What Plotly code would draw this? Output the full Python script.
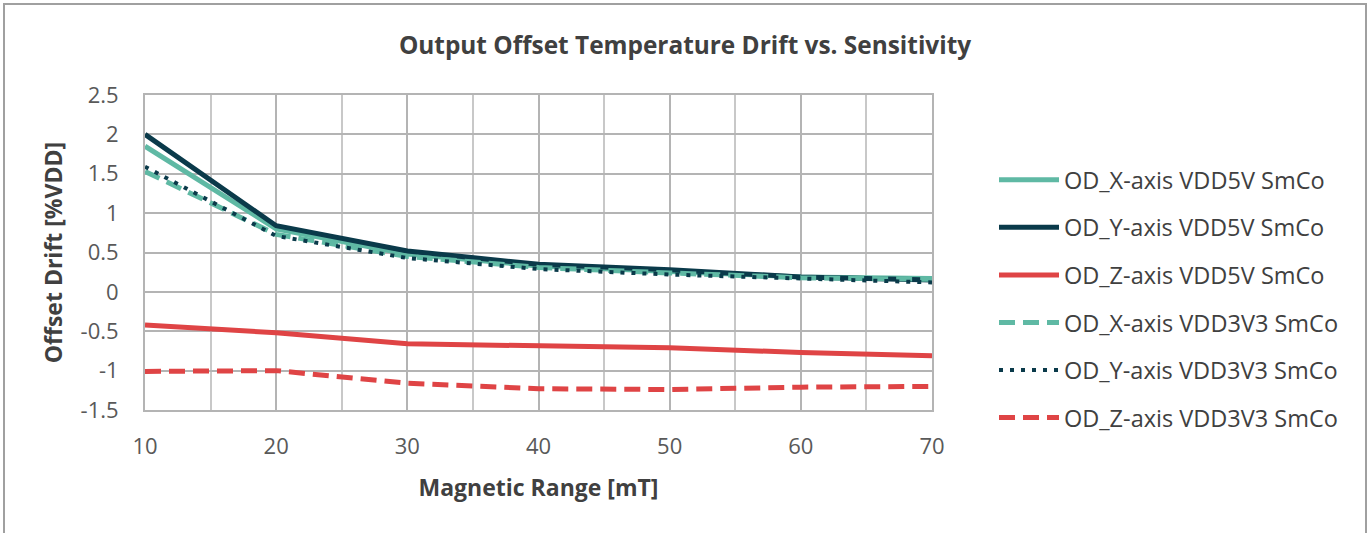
import plotly.graph_objects as go

x_range_mT = [10, 20, 30, 40, 50, 60, 70]

od_x_5v = [1.85, 0.80, 0.48, 0.33, 0.26, 0.19, 0.17]
od_y_5v = [2.00, 0.84, 0.52, 0.35, 0.28, 0.19, 0.15]
od_z_5v = [-0.42, -0.52, -0.66, -0.69, -0.71, -0.77, -0.81]
od_x_3v3 = [1.53, 0.73, 0.45, 0.31, 0.24, 0.18, 0.16]
od_y_3v3 = [1.59, 0.71, 0.43, 0.29, 0.22, 0.17, 0.12]
od_z_3v3 = [-1.01, -1.00, -1.16, -1.23, -1.24, -1.21, -1.20]

series_names = [
    "OD_X-axis VDD5V SmCo",
    "OD_Y-axis VDD5V SmCo",
    "OD_Z-axis VDD5V SmCo",
    "OD_X-axis VDD3V3 SmCo",
    "OD_Y-axis VDD3V3 SmCo",
    "OD_Z-axis VDD3V3 SmCo",
]

y_tick_vals = [2.5, 2, 1.5, 1, 0.5, 0, -0.5, -1, -1.5]
y_tick_text = ["2.5", "2", "1.5", "1", "0.5", "0", "-0.5", "-1", "-1.5"]

TEAL = "#5FB9A4"
NAVY = "#0A3A4A"
RED = "#DF4445"

styles = [
    dict(color=TEAL, width=5, dash="solid"),
    dict(color=NAVY, width=5, dash="solid"),
    dict(color=RED, width=5, dash="solid"),
    dict(color=TEAL, width=5, dash="16px,8px"),
    dict(color=NAVY, width=4, dash="4px,7px"),
    dict(color=RED, width=5, dash="16px,8px"),
]

data = [od_x_5v, od_y_5v, od_z_5v, od_x_3v3, od_y_3v3, od_z_3v3]

fig = go.Figure()
for i, (name, ys, st) in enumerate(zip(series_names, data, styles)):
    fig.add_trace(go.Scatter(
        x=x_range_mT, y=ys, name=name, mode="lines",
        line=st, legendgroup=f"g{i}",
    ))

W, H = 1370, 533
L, R, T, B = 145, 932, 95, 410
fig.update_layout(
    width=W, height=H,
    margin=dict(l=L, r=W - R, t=T, b=H - B, pad=0),
    paper_bgcolor="white", plot_bgcolor="white",
    font=dict(family="Open Sans, Noto Sans, sans-serif", color="#595959", size=22),
    title=dict(
        text="<b>Output Offset Temperature Drift vs. Sensitivity</b>",
        x=0.5, xanchor="center", y=1 - 45 / H, yanchor="middle",
        font=dict(size=24.4, color="#404040"),
    ),
    legend=dict(
        x=(994 - L) / (R - L), xanchor="left",
        y=(B - 299) / (B - T), yanchor="middle",
        font=dict(size=23.5, color="#404040"),
        traceorder="grouped", tracegroupgap=14,
        itemwidth=60, bgcolor="rgba(0,0,0,0)",
    ),
    showlegend=True,
)

grid_c = "#B4B4B4"
fig.update_xaxes(
    range=[10, 70], tickvals=x_range_mT, showgrid=True, gridcolor=grid_c, gridwidth=2,
    minor=dict(dtick=5, showgrid=True, gridcolor="#C8C8C8", gridwidth=2),
    showline=True, linecolor=grid_c, linewidth=2, mirror=True,
    zeroline=False, ticks="", ticklabelstandoff=16,
    tickfont=dict(size=22, color="#595959"),
    title=dict(text="<b>Magnetic Range [mT]</b>", font=dict(size=23, color="#404040"), standoff=20),
)
fig.update_yaxes(
    range=[-1.5, 2.5], tickvals=y_tick_vals, ticktext=y_tick_text,
    showgrid=True, gridcolor=grid_c, gridwidth=2,
    showline=True, linecolor=grid_c, linewidth=2, mirror=True,
    zeroline=False, ticks="", ticklabelstandoff=20,
    tickfont=dict(size=22, color="#595959"),
    title=dict(text="<b>Offset Drift [%VDD]</b>", font=dict(size=23, color="#404040"), standoff=12),
)

# outer chart frame
fig.add_shape(
    type="rect", xref="paper", yref="paper", layer="below",
    x0=(4 - L) / (R - L), x1=(1366 - L) / (R - L),
    y0=-(H + 10 - B) / (B - T), y1=1 + (T - 4) / (B - T),
    line=dict(color="#A0A0A0", width=2), fillcolor="rgba(0,0,0,0)",
)

fig.write_html(
    "out.html",
    config={"displayModeBar": False},
    post_script="document.body.style.margin='0';",
)
